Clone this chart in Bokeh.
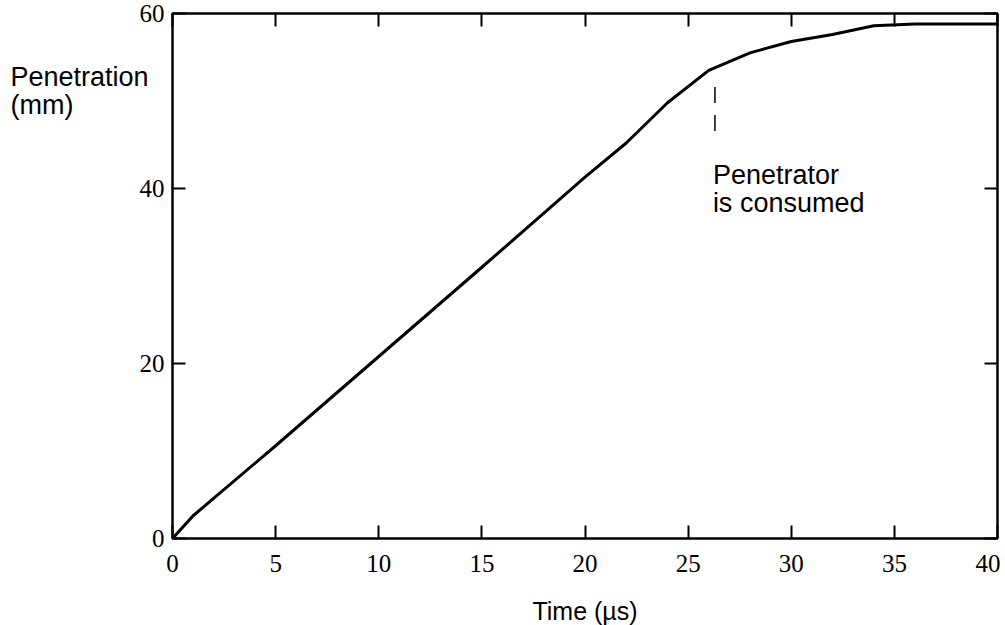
from bokeh.plotting import figure
from bokeh.models import LinearAxis, FixedTicker, Label, Range1d
from bokeh.embed import file_html
from bokeh.resources import INLINE

# Data
time_us = [0, 1, 5, 10, 15, 20, 22, 24, 26, 28, 30, 32, 34, 36, 40]
penetration_mm = [0, 2.6, 10.6, 20.8, 31.0, 41.3, 45.2, 49.8, 53.5, 55.5, 56.8, 57.6, 58.6, 58.8, 58.8]
x_ticks = [0, 5, 10, 15, 20, 25, 30, 35, 40]
y_ticks = [0, 20, 40, 60]
marker_t = [26.3, 26.3]
marker_p = [51.6, 46.2]
y_caption_lines = ["Penetration", "(mm)"]
x_caption = "Time (\u00b5s)"
note_lines = ["Penetrator", "is consumed"]

p = figure(frame_width=825, frame_height=525,
           x_range=Range1d(0, 40), y_range=Range1d(0, 60),
           output_backend="svg", toolbar_location=None,
           min_border_left=172, min_border_right=3,
           min_border_top=13, min_border_bottom=80,
           background_fill_color="white", border_fill_color="white")
p.grid.visible = False
p.outline_line_color = "black"
p.outline_line_width = 2

tick_font = "Liberation Serif"
sans = "Liberation Sans"

def style(ax, labels=True):
    ax.axis_line_color = "black"
    ax.axis_line_width = 2
    ax.major_tick_in = 13
    ax.major_tick_out = 0
    ax.major_tick_line_width = 2
    ax.major_tick_line_color = "black"
    ax.minor_tick_line_color = None
    ax.major_label_text_font = tick_font
    ax.major_label_text_font_size = "25px"
    ax.major_label_text_color = "black"
    if not labels:
        ax.major_label_text_font_size = "0px"
        ax.major_label_text_color = None
        ax.major_label_standoff = 0

xb = p.xaxis[0]
xb.ticker = FixedTicker(ticks=x_ticks)
style(xb)
xb.major_label_standoff = 16
xb.axis_label = x_caption
xb.axis_label_text_font = sans
xb.axis_label_text_font_style = "normal"
xb.axis_label_text_font_size = "25px"
xb.axis_label_text_color = "black"
xb.axis_label_standoff = 22

yl = p.yaxis[0]
yl.ticker = FixedTicker(ticks=y_ticks)
style(yl)
yl.major_label_standoff = 8

# caption axis: no line, no ticks, only a horizontal label; the label block is
# vertically centred on the frame, so trailing blank (nbsp) lines lift it to the top
nb = "\u00a0"
pad_w = nb * 10
cap_text = "\n".join([y_caption_lines[0], y_caption_lines[1] + pad_w] + [nb] * 13)
ycap = LinearAxis(ticker=FixedTicker(ticks=[]))
ycap.axis_line_color = None
ycap.major_tick_line_color = None
ycap.minor_tick_line_color = None
ycap.major_tick_in = 0
ycap.major_tick_out = 0
ycap.major_label_standoff = 0
ycap.axis_label = cap_text
ycap.axis_label_orientation = "horizontal"
ycap.axis_label_text_font = sans
ycap.axis_label_text_font_style = "normal"
ycap.axis_label_text_font_size = "27px"
ycap.axis_label_text_color = "black"
ycap.axis_label_text_line_height = 0.95
ycap.axis_label_standoff = -12
p.add_layout(ycap, "left")

xt = LinearAxis(ticker=FixedTicker(ticks=x_ticks))
style(xt, labels=False)
p.add_layout(xt, "above")

yr = LinearAxis(ticker=FixedTicker(ticks=y_ticks))
style(yr, labels=False)
p.add_layout(yr, "right")

p.line(time_us, penetration_mm, line_color="black", line_width=3)
p.line(marker_t, marker_p, line_color="black", line_width=1.5, line_dash="16 12")

for txt, y in zip(note_lines, [41.5, 38.3]):
    p.add_layout(Label(x=26.2, y=y, text=txt, text_font=sans, text_font_size="27px",
                       text_color="black", text_align="left", text_baseline="alphabetic",
                       level="overlay"))

open("out.html", "w").write(file_html(p, INLINE))
